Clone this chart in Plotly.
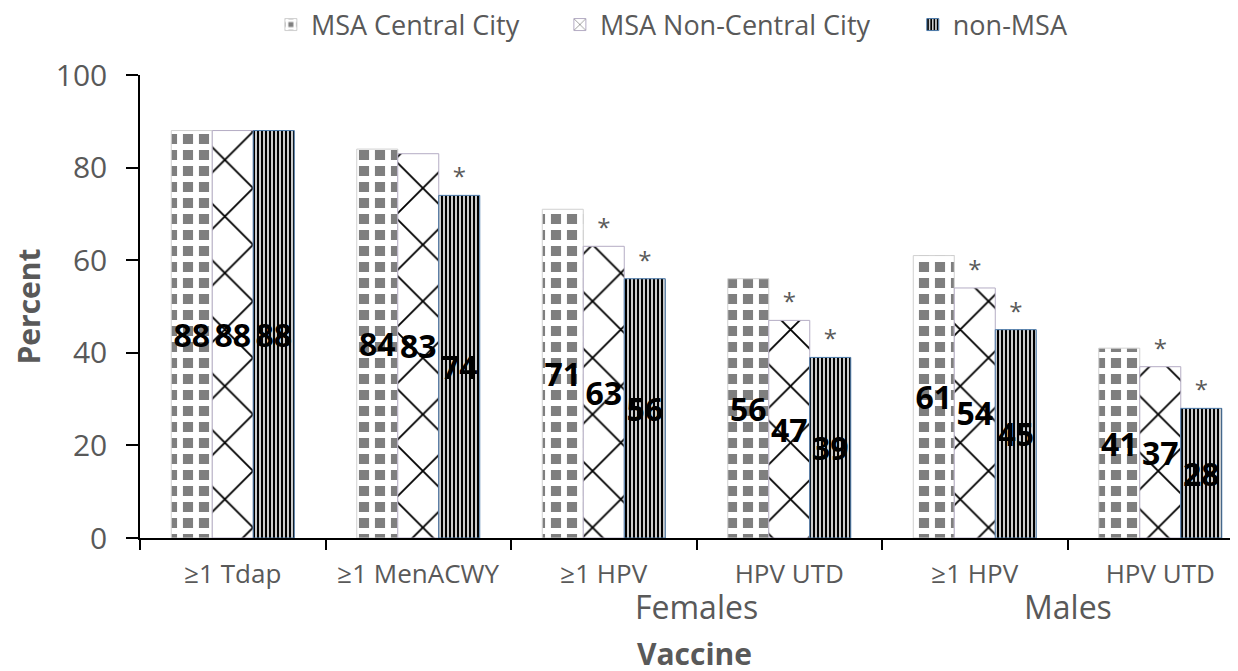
import plotly.graph_objects as go

# ---- data ----
categories = ["≥1 Tdap", "≥1 MenACWY", "≥1 HPV", "HPV UTD", "≥1 HPV", "HPV UTD"]
series_names = ["MSA Central City", "MSA Non-Central City", "non-MSA"]
central = [88, 84, 71, 56, 61, 41]
noncentral = [88, 83, 63, 47, 54, 37]
nonmsa = [88, 74, 56, 39, 45, 28]
sig_central = [False, False, False, False, False, False]
sig_noncentral = [False, False, True, True, True, True]
sig_nonmsa = [False, True, True, True, True, True]
group_labels = ["Females", "Males"]
group_centers = [2.5, 4.5]
y_ticks = [0, 20, 40, 60, 80, 100]

# ---- styling ----
FONT = "Open Sans"
GRAY = "#595959"
x = list(range(len(categories)))
series = [central, noncentral, nonmsa]
sigs = [sig_central, sig_noncentral, sig_nonmsa]
styles = [
    dict(shape="+", fg="white", bg="#7f7f7f", size=16, solidity=0.6, line="#d0d0d0"),
    dict(shape="x", fg="black", bg="white", size=40, solidity=0.09, line="#b4acc4"),
    dict(shape="|", fg="black", bg="white", size=4, solidity=0.6, line="#4a78a8"),
]
groups = ["c", "n", "m"]
legend_ids = ["legend", "legend2", "legend3"]
legend_x = [0.1192, 0.3824, 0.7038]

# the page body adds an 8px offset, so the figure is 8px smaller than the window
W, H = 1230, 663

fig = go.Figure()
for name, vals, st, g, lg in zip(series_names, series, styles, groups, legend_ids):
    fig.add_trace(go.Bar(
        x=x, y=vals, name=name, offsetgroup=g, legend=lg,
        marker=dict(color=st["bg"],
                    pattern=dict(shape=st["shape"], fgcolor=st["fg"], bgcolor=st["bg"],
                                 size=st["size"], solidity=st["solidity"], fgopacity=1,
                                 fillmode="replace"),
                    line=dict(color=st["line"], width=1)),
        text=[str(v) for v in vals], textposition="inside", insidetextanchor="middle",
        textangle=0, constraintext="none",
        insidetextfont=dict(family=FONT, size=32, color="black", weight="bold"),
        hoverinfo="skip",
    ))
for vals, sg, g in zip(series, sigs, groups):
    fig.add_trace(go.Bar(
        x=x, y=vals, offsetgroup=g, showlegend=False,
        marker=dict(color="rgba(0,0,0,0)", line=dict(width=0)),
        text=["*" if s else "" for s in sg], textposition="outside",
        textfont=dict(family=FONT, size=24, color=GRAY),
        cliponaxis=False, hoverinfo="skip",
    ))

annotations = [
    dict(x=c, y=-0.149, xref="x", yref="paper", text=t, showarrow=False,
         font=dict(family=FONT, size=32, color=GRAY), yanchor="middle")
    for t, c in zip(group_labels, group_centers)
]
annotations.append(dict(x=(694 - 140) / 1098, y=-0.250, xref="paper", yref="paper",
                        text="<b>Vaccine</b>", showarrow=False,
                        font=dict(family=FONT, size=30, color=GRAY), yanchor="middle"))

legend_common = dict(orientation="h", xanchor="left", xref="paper",
                     yref="container", y=1 - 17 / H, yanchor="middle",
                     font=dict(family=FONT, size=27, color=GRAY), bgcolor="rgba(0,0,0,0)")

fig.update_layout(
    width=W, height=H,
    margin=dict(l=132, r=0, t=67, b=133, autoexpand=False),
    paper_bgcolor="white", plot_bgcolor="white",
    barmode="group", bargap=0.337, bargroupgap=0,
    font=dict(family=FONT, color=GRAY),
    legend=dict(x=legend_x[0], **legend_common),
    legend2=dict(x=legend_x[1], **legend_common),
    legend3=dict(x=legend_x[2], **legend_common),
    annotations=annotations,
    xaxis=dict(range=[-0.5, 5.419], tickmode="array", tickvals=x, ticktext=categories,
               automargin=False,
               ticks="", tickfont=dict(family=FONT, size=26, color=GRAY),
               ticklabelstandoff=12,
               showline=True, linecolor="black", linewidth=1.5, showgrid=False, zeroline=False,
               minor=dict(tickmode="linear", tick0=0.5, dtick=1, ticks="outside", ticklen=10,
                          tickwidth=1.5, tickcolor="black", showgrid=False)),
    yaxis=dict(range=[0, 100], tickmode="array", tickvals=y_ticks, automargin=False,
               ticks="outside", ticklen=12, tickwidth=1.5, tickcolor="black",
               tickfont=dict(family=FONT, size=30, color=GRAY), ticklabelstandoff=13,
               showline=True, linecolor="black", linewidth=1.5, showgrid=False, zeroline=False,
               title=dict(text="<b>Percent</b>", font=dict(family=FONT, size=30, color=GRAY),
                          standoff=12)),
)

fig.write_html("out.html")
